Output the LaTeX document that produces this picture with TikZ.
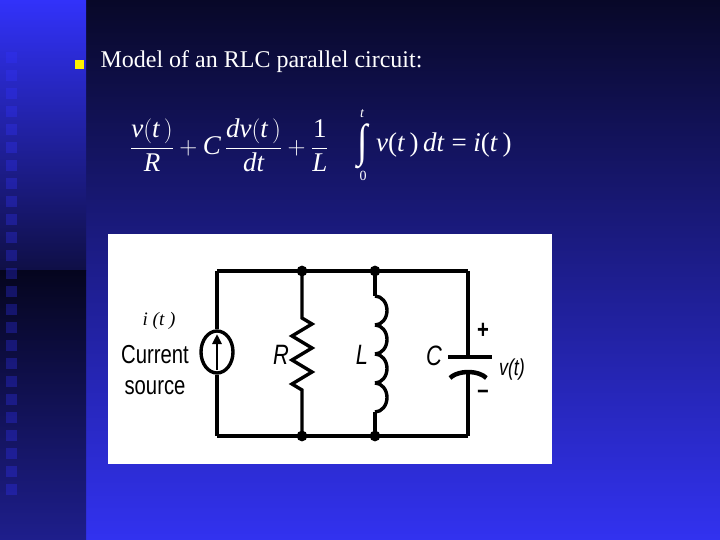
\documentclass[tikz,border=0pt]{standalone}
\usepackage{fontspec}
\setmainfont{Liberation Serif}
\newfontfamily\arialn[FakeStretch=0.78]{Liberation Sans}
\usetikzlibrary{shapes.geometric,arrows.meta}
\tikzset{wire/.style={line width=3.4pt,black},dotn/.style={circle,fill=black,inner sep=3.8pt},
eqt/.style={text=white,font=\fontsize{27}{30}\selectfont,inner sep=0pt}}
\newcommand{\ii}[1]{\textit{#1}}
\begin{document}
\begin{tikzpicture}[x=1pt,y=-1pt]
\useasboundingbox (0,0) rectangle (720,540);
\shade[top color={rgb,255:red,8;green,8;blue,40},bottom color={rgb,255:red,50;green,50;blue,240}] (86,0) rectangle (720,540);
\shade[top color={rgb,255:red,50;green,50;blue,250},bottom color={rgb,255:red,15;green,15;blue,70}] (0,0) rectangle (86,270);
\shade[top color={rgb,255:red,5;green,5;blue,30},bottom color={rgb,255:red,30;green,30;blue,140}] (0,270) rectangle (86,540);
\foreach \i in {0,...,24}{\fill[blue!80!white,opacity=0.3] (6,{52+18*\i}) rectangle +(11,11);}
\fill[yellow] (75,60) rectangle (84,69);
\node[anchor=west,text=white,font=\fontsize{24}{28}\selectfont] (title) at (97,62) {Model of an RLC parallel circuit:};
\node[eqt,anchor=west] (eq1) at (130,145) {$\displaystyle\frac{\ii{v}(\ii{t}\,)}{\ii{R}}+\ii{C}\,\frac{\ii{dv}(\ii{t}\,)}{\ii{dt}}+\frac{\textrm{1}}{\ii{L}}$};
\node[eqt] (intg) at (363,146) {\scalebox{1.4}[1.7]{∫}};
\node[eqt,font=\itshape\fontsize{14}{14}\selectfont] (lt) at (362,114) {t};
\node[eqt,font=\fontsize{14}{14}\selectfont] (l0) at (363,176) {0};
\node[eqt,anchor=west] (eq2) at (376,145) {\ii{v}(\ii{t}\,)\,\ii{dt} = \ii{i}(\ii{t}\,)};
\fill[white] (108,234) rectangle (552,464);
\coordinate (tl) at (217,271); \coordinate (tr) at (468,271);
\coordinate (bl) at (217,436); \coordinate (br) at (468,436);
\draw[wire] (tl)--(tr); \draw[wire] (bl)--(br);
\node[dotn] (r1) at (302,271) {}; \node[dotn] (l1) at (375,271) {};
\node[dotn] (r2) at (302,436) {}; \node[dotn] (l2) at (375,436) {};
% source
\node[draw,line width=3.4pt,ellipse,minimum width=32pt,minimum height=42pt] (src) at (217,352) {};
\draw[wire] (tl)--(src.north); \draw[wire] (src.south)--(bl);
\draw[line width=2.8pt,-{Triangle[length=10pt,width=9pt]}] (217,370)--(217,334);
% resistor
\draw[wire,line join=miter] (r1.center)--(302,318) -- ++(10,6) -- ++(-20,12)-- ++(20,12)-- ++(-20,12)-- ++(20,12)-- ++(-20,12)-- ++(10,6)--(r2.center);
% inductor
\draw[wire] (l1.center)--(375,296);
\foreach \k in {0,1,2,3}{\draw[wire] (375,{296+29*\k}) arc(-90:90:12 and 14.5);}
\draw[wire] (375,412)--(l2.center);
% capacitor
\draw[wire] (tr)--(468,357); \draw[line width=4.5pt] (448,357)--(492,357);
\draw[line width=4.5pt] (450,378) arc(-150:-30:21 and 12);
\draw[wire] (468,372)--(br);
\node[font=\itshape\fontsize{19}{20}\selectfont] (it) at (159,321) {\ii{i} (\ii{t} )};
\node[font=\arialn\fontsize{26}{26}\selectfont,align=center] (cs) at (155,370) {Current\\[5pt] source};
\node[font=\arialn\itshape\fontsize{28}{28}\selectfont] (R) at (281,355) {R};
\node[font=\arialn\itshape\fontsize{28}{28}\selectfont] (L) at (362,355) {L};
\node[font=\arialn\itshape\fontsize{28}{28}\selectfont] (C) at (434,356) {C};
\node[font=\arialn\bfseries\fontsize{26}{26}\selectfont] (p) at (483,331) {+};
\node[font=\arialn\bfseries\fontsize{26}{26}\selectfont] (m) at (483,394) {\textendash};
\node[font=\arialn\itshape\fontsize{23}{23}\selectfont] (v) at (512,370) {v(t)};
\end{tikzpicture}
\end{document}
